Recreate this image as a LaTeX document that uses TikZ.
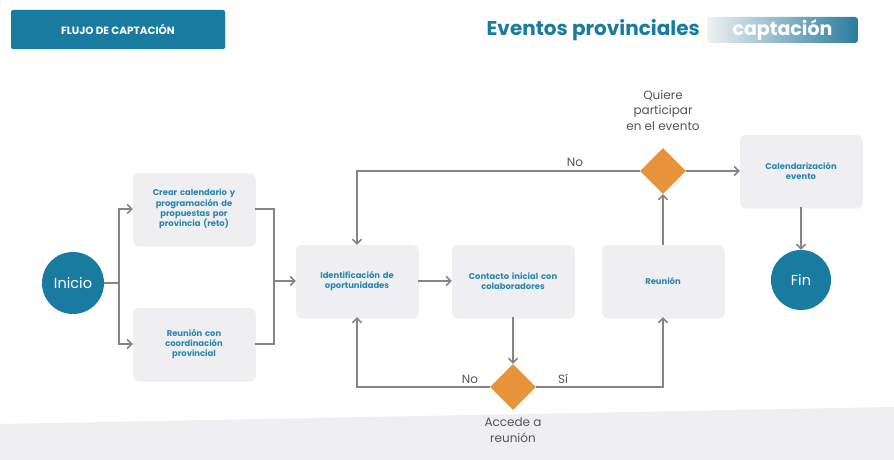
\documentclass[tikz,border=0pt]{standalone}
\usepackage{fontspec}
\setmainfont{Poppins}
\usetikzlibrary{arrows.meta,shapes.geometric,shadows}
\definecolor{teal1}{HTML}{1A7BA1}
\definecolor{boxtxt}{HTML}{2A86AE}
\definecolor{boxgray}{HTML}{EFEFF1}
\definecolor{linegray}{HTML}{858585}
\definecolor{txtgray}{HTML}{555555}
\definecolor{orange1}{HTML}{E8923A}
\definecolor{band}{HTML}{EFEEF0}
\definecolor{captl}{HTML}{EEF1F3}
\definecolor{captr}{HTML}{2A7C9E}
\tikzset{
  procbox/.style={fill=boxgray, rounded corners=5pt, minimum width=122pt, minimum height=72pt,
    text width=112pt, align=center, text=boxtxt, inner sep=0pt,
    font=\bfseries\fontsize{8.4}{10.3}\selectfont,
    drop shadow={opacity=0.12, shadow xshift=0.8pt, shadow yshift=-1.5pt}},
  termnode/.style={circle, fill=teal1, minimum size=62pt, inner sep=0pt, text=white,
    font=\fontsize{14.5}{16}\selectfont},
  decision/.style={diamond, fill=orange1, minimum width=46pt, minimum height=46pt, inner sep=0pt},
  line/.style={draw=linegray, line width=1.6pt},
  arr/.style={line, -{Straight Barb[length=4.5pt,width=9pt]}},
  lbl/.style={text=txtgray, font=\fontsize{12}{15.5}\selectfont, align=center, inner sep=0pt}
}
\begin{document}
\begin{tikzpicture}[x=1pt,y=-1pt]
\useasboundingbox (0,0) rectangle (894,460);
\fill[white] (0,0) rectangle (894,460);
\fill[band] (0,424) -- (894,407) -- (894,460) -- (0,460) -- cycle;

% header
\node[fill=teal1, rounded corners=2pt, minimum width=214pt, minimum height=39pt, inner sep=0pt,
  text=white, font=\bfseries\fontsize{10.5}{12}\selectfont,
  drop shadow={opacity=0.15, shadow xshift=0.8pt, shadow yshift=-1.5pt}] (hdr) at (118,29.5) {FLUJO DE CAPTACIÓN};
\node[anchor=east, text=teal1, inner sep=0pt, font=\bfseries\fontsize{20}{22}\selectfont] (title) at (700,30) {Eventos provinciales};
\node[rounded corners=3pt, left color=captl, right color=captr, minimum width=151pt, minimum height=26pt,
  inner sep=0pt, text=white, font=\bfseries\fontsize{19}{20}\selectfont] (capt) at (782.5,30) {captación};

% nodes
\node[termnode] (inicio) at (73,283) {Inicio};
\node[procbox] (box1) at (194,209) {Crear calendario y\\programación de\\propuestas por\\provincia (reto)};
\node[procbox] (box2) at (194,344) {Reunión con\\coordinación\\provincial};
\node[procbox] (ident) at (357,281) {Identificación de\\oportunidades};
\node[procbox] (contacto) at (513,281) {Contacto inicial con\\colaboradores};
\node[procbox] (reunion) at (663,281) {Reunión};
\node[procbox] (cal) at (801,171) {Calendarización\\evento};
\node[termnode, minimum size=60pt] (fin) at (801,280) {Fin};
\node[decision] (d1) at (663,171) {};
\node[decision] (d2) at (513,387) {};

% labels
\node[lbl] (q1) at (663,110) {Quiere\\participar\\en el evento};
\node[lbl] (q2) at (513,430) {Accede a\\reunión};
\node[lbl] (no1) at (575,162) {No};
\node[lbl] (no2) at (470,379) {No};
\node[lbl] (si) at (563,379) {Sí};

% connectors
\coordinate (split) at (119,283);
\coordinate (merge) at (274,281);
\draw[line] (inicio) -- (split);
\draw[arr] (split) |- (box1.west);
\draw[arr] (split) |- (box2.west);
\draw[line] (box1.east) -| (merge);
\draw[line] (box2.east) -| (merge);
\draw[arr] (merge) -- (ident.west);
\draw[arr] (ident.east) -- (contacto.west);
\draw[arr] (contacto.south) -- (d2.north);
\draw[arr] (d2.west) -| (ident.south);
\draw[arr] (d2.east) -| (reunion.south);
\draw[arr] (reunion.north) -- (d1.south);
\draw[arr] (d1.west) -| (ident.north);
\draw[arr] (d1.east) -- (cal.west);
\draw[arr] (cal.south) -- (fin.north);
\end{tikzpicture}
\end{document}
